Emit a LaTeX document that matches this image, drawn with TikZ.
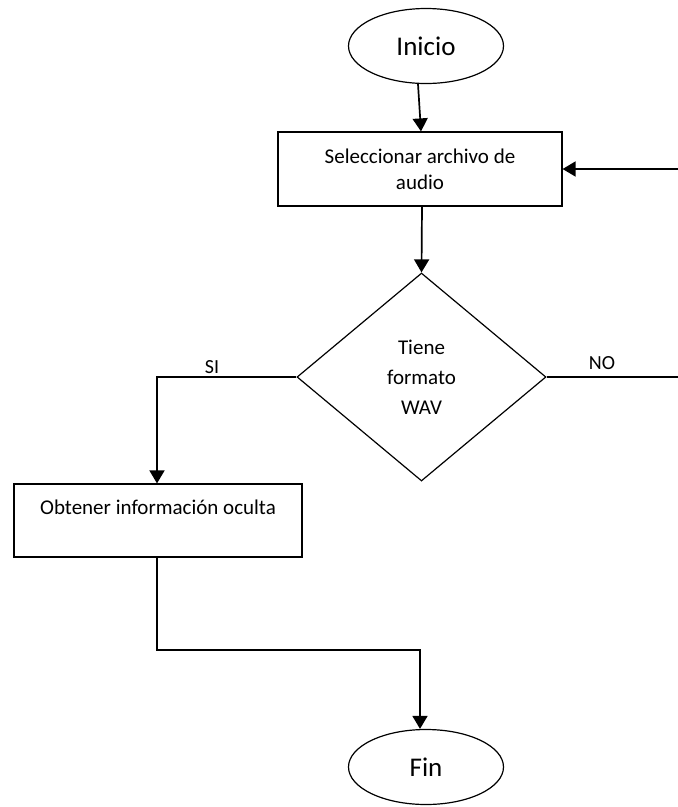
\documentclass[tikz,border=0pt]{standalone}
\usepackage{fontspec}
\setmainfont{Carlito}
\usetikzlibrary{shapes.geometric,arrows.meta}

\begin{document}
\begin{tikzpicture}[x=1pt,y=-1pt,
  shapeline/.style={draw=black,line width=1.2pt},
  terminal/.style={shapeline,ellipse,inner sep=0pt,minimum width=155pt,minimum height=75pt,font=\fontsize{27}{32}\selectfont},
  procbox/.style={shapeline,rectangle,inner sep=0pt,align=center,font=\fontsize{21}{26}\selectfont},
  decision/.style={shapeline,diamond,inner sep=0pt,minimum width=249pt,minimum height=208pt,align=center,font=\fontsize{21}{30}\selectfont},
  flow/.style={draw=black,line width=1.7pt},
  arrow/.style={flow,-{Triangle[length=13pt,width=15pt]}},
  branch/.style={font=\fontsize{20}{24}\selectfont}
]
\useasboundingbox (0,0) rectangle (678,807);

% terminals
\node[terminal] (inicio) at (426,46) {Inicio};
\node[terminal] (fin) at (426,767) {Fin};

% process steps
\node[procbox,minimum width=284pt,minimum height=74pt] (sel) at (420,169)
  {Seleccionar archivo de\\audio};
\node[procbox,minimum width=288pt,minimum height=73pt] (obt) at (158,520.5)
  {Obtener información oculta\\\mbox{}};

% decision
\node[decision] (dia) at (421.5,377) {Tiene\\formato\\WAV};

% free ends at the right margin
\coordinate (noEnd) at (678,377);
\coordinate (backIn) at (678,169);
\coordinate (siCorner) at (157,377);
\coordinate (joinLeft) at (157,650);
\coordinate (joinRight) at (420,650);

% connectors
\draw[arrow] ([xshift=-8pt]inicio.south) -- ([xshift=1pt]sel.north);
\draw[arrow] ([xshift=2pt]sel.south) -- (dia.north);
\draw[arrow] (backIn) -- (sel.east);
\draw[flow] (dia.east) -- (noEnd);
\draw[arrow] (dia.west) -- (siCorner) -- ([xshift=-1pt]obt.north);
\draw[arrow] ([xshift=-1pt]obt.south) -- (joinLeft) -- (joinRight) -- ([xshift=-6pt]fin.north);

% branch labels
\node[branch] (si) at (212,367) {SI};
\node[branch] (no) at (602,363) {NO};
\end{tikzpicture}
\end{document}
